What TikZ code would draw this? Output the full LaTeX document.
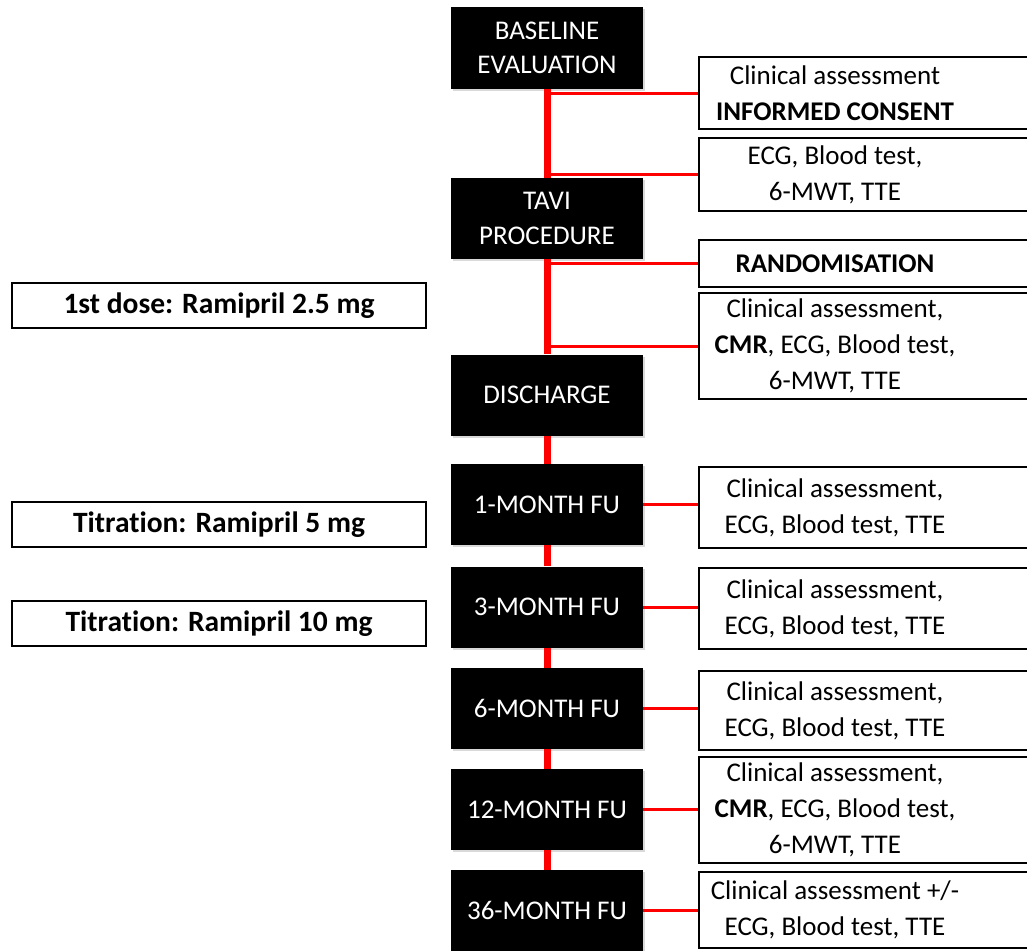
\documentclass[tikz,border=0pt]{standalone}
\usepackage{fontspec}
\setmainfont{Carlito}[Ligatures={TeX,NoCommon}]
\usetikzlibrary{positioning, shadows}

\begin{document}
\begin{tikzpicture}[
  x=1pt, y=-1pt,
  every node/.style={font=\fontsize{27}{36}\selectfont},
  stage/.style={fill=black, text=white, minimum width=192pt,
                minimum height=81pt, align=center, inner sep=2pt,
                font=\fontsize{27}{34.5}\selectfont,
                drop shadow={shadow xshift=2pt, shadow yshift=-2pt, opacity=0.3}},
  exam/.style={draw, line width=1.5pt, minimum width=342pt, inner sep=0pt},
  examtext/.style={align=center, inner sep=0pt},
  dose/.style={draw, line width=1.5pt, minimum width=414pt,
               minimum height=45pt, font=\fontsize{29.5}{36}\selectfont\bfseries},
  spine/.style={red, line width=7pt},
  branch/.style={red, line width=3pt}
]
\useasboundingbox (0,0) rectangle (1027,950);
\clip (0,0) rectangle (1027,950);

% ---- CENTRAL TIMELINE: study stages ----
\node[stage] (base)  at (547,48)    {BASELINE\\EVALUATION};
\node[stage] (tavi)  at (547,218.5) {TAVI\\PROCEDURE};
\node[stage] (disch) at (547,395)   {DISCHARGE};
\node[stage] (m1)    at (547,504.5) {1-MONTH FU};
\node[stage] (m3)    at (547,607)   {3-MONTH FU};
\node[stage] (m6)    at (547,708.5) {6-MONTH FU};
\node[stage] (m12)   at (547,809.5) {12-MONTH FU};
\node[stage] (m36)   at (547,910.5) {36-MONTH FU};

\foreach \a/\b in {base/tavi, tavi/disch, disch/m1, m1/m3, m3/m6, m6/m12, m12/m36}
  \draw[spine] (\a.south) -- (\b.north);

% ---- RIGHT COLUMN: examinations ----
\node[exam, minimum height=72pt]  (ca1)  at (870,93)    {};
\node[examtext] (ca1t) at (835,93)
  {Clinical assessment\\\textbf{INFORMED CONSENT}};
\node[exam, minimum height=73pt]  (ca2)  at (870,174.5) {};
\node[examtext] (ca2t) at (835,174.5) {ECG, Blood test,\\6-MWT, TTE};
\node[exam, minimum height=47pt]  (rand) at (870,263.5) {};
\node[examtext] (randt) at (835,263.5) {\textbf{RANDOMISATION}};
\node[exam, minimum height=106pt] (ca4)  at (870,346)   {};
\node[examtext] (ca4t) at (835,346)
  {Clinical assessment,\\\textbf{CMR}, ECG, Blood test,\\6-MWT, TTE};

\node[exam, minimum height=81pt]  (fu1)  at (870,507.5) {};
\node[examtext] (fu1t) at (835,507.5)
  {Clinical assessment,\\ECG, Blood test, TTE};
\node[exam, minimum height=81pt]  (fu3)  at (870,608.5) {};
\node[examtext] (fu3t) at (835,608.5)
  {Clinical assessment,\\ECG, Blood test, TTE};
\node[exam, minimum height=79pt]  (fu6)  at (870,710.5) {};
\node[examtext] (fu6t) at (835,710.5)
  {Clinical assessment,\\ECG, Blood test, TTE};
\node[exam, minimum height=106pt] (fu12) at (870,810)   {};
\node[examtext] (fu12t) at (835,810)
  {Clinical assessment,\\\textbf{CMR}, ECG, Blood test,\\6-MWT, TTE};
\node[exam, minimum height=76pt]  (fu36) at (870,910)   {};
\node[examtext] (fu36t) at (835,910)
  {Clinical assessment +/-\\ECG, Blood test, TTE};

% branches off the spine
\foreach \n in {ca1, ca2, rand, ca4}
  \draw[branch] (\n.west -| base.south) -- (\n.west);
\foreach \a/\b in {m1/fu1, m3/fu3, m6/fu6, m12/fu12, m36/fu36}
  \draw[branch] (\a.east) -- (\a.east -| \b.west);

% ---- LEFT COLUMN: ramipril dosing ----
\node[dose] (dose1) at (219,305.5) {1st dose: Ramipril 2.5 mg};
\node[dose] (dose2) at (219,524.5) {Titration: Ramipril 5 mg};
\node[dose] (dose3) at (219,623.5) {Titration: Ramipril 10 mg};

\end{tikzpicture}
\end{document}
